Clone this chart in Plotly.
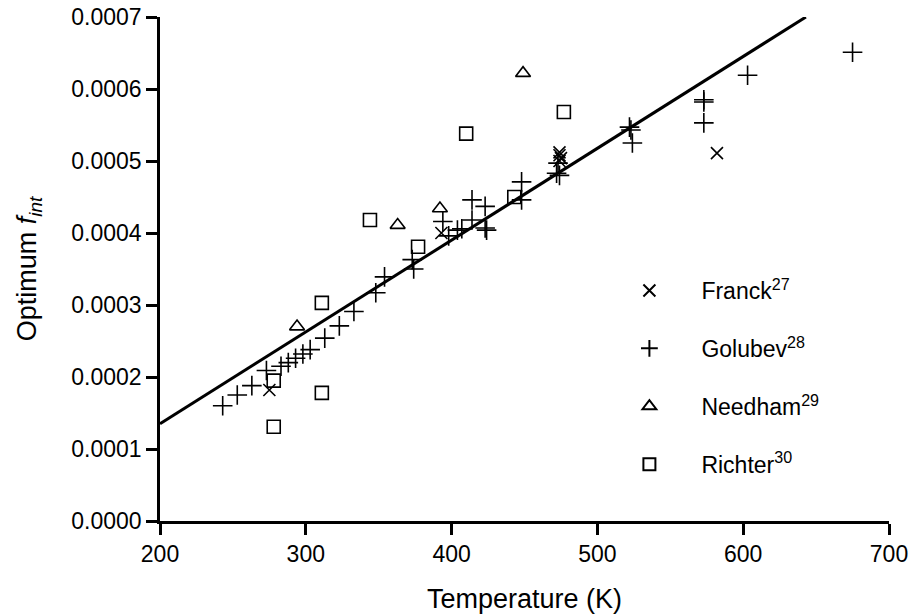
import plotly.graph_objects as go

# ---- data ----
franck_T = [275, 393, 474, 474, 475, 474, 582]
franck_f = [0.000182, 0.000400, 0.000512, 0.000508, 0.000504, 0.000500, 0.000511]

golubev_T = [243, 253, 263, 273, 283, 288, 293, 298, 303, 313, 323, 333, 348, 354,
             373, 374, 394, 398, 404, 407, 414, 414, 423, 423, 424, 448, 448,
             473, 472, 474, 522, 523, 524, 573, 573, 573, 603, 675]
golubev_f = [0.000160, 0.000175, 0.000188, 0.000209, 0.000215, 0.000220, 0.000226,
             0.000232, 0.000238, 0.000254, 0.000271, 0.000291, 0.000317, 0.000339,
             0.000363, 0.000350, 0.000416, 0.000396, 0.000404, 0.000406, 0.000446,
             0.000418, 0.000437, 0.000407, 0.000404, 0.000471, 0.000446,
             0.000497, 0.000483, 0.000480, 0.000547, 0.000543, 0.000525,
             0.000585, 0.000582, 0.000553, 0.000619, 0.000651]

needham_T = [294, 363, 392, 449]
needham_f = [0.000270, 0.000411, 0.000434, 0.000622]

richter_T = [278, 278, 311, 311, 344, 377, 410, 443, 477]
richter_f = [0.000131, 0.000195, 0.000303, 0.000178, 0.000418, 0.000381, 0.000538,
             0.000450, 0.000568]

fit_T = [200, 643]
fit_f = [0.000135, 0.000700]

series_names = ["Franck<sup>27</sup>", "Golubev<sup>28</sup>",
                "Needham<sup>29</sup>", "Richter<sup>30</sup>"]

x_ticks = [200, 300, 400, 500, 600, 700]
y_ticks = [0.0000, 0.0001, 0.0002, 0.0003, 0.0004, 0.0005, 0.0006, 0.0007]

FONT = "Liberation Sans, Arial, Helvetica, sans-serif"

fig = go.Figure()

fig.add_trace(go.Scatter(x=fit_T, y=fit_f, mode="lines",
                         line=dict(color="black", width=3),
                         showlegend=False, hoverinfo="skip"))

specs = [
    (franck_T, franck_f, "x-thin-open", 12),
    (golubev_T, golubev_f, "cross-thin-open", 14),
    (needham_T, needham_f, "triangle-up-open", 13),
    (richter_T, richter_f, "square-open", 13),
]
for i, ((xs, ys, sym, sz), name) in enumerate(zip(specs, series_names)):
    fig.add_trace(go.Scatter(
        x=xs, y=ys, mode="markers", name=name, legendgroup=f"g{i}",
        marker=dict(symbol=sym, size=sz, color="black",
                    line=dict(color="black", width=1.6)),
    ))

axis_common = dict(
    showline=True, linecolor="black", linewidth=2.5,
    ticks="outside", ticklen=11, tickwidth=2.5, tickcolor="black",
    showgrid=False, zeroline=False, mirror=False, automargin=False,
    ticklabeloverflow="allow",
    tickfont=dict(family=FONT, size=23, color="black"),
)

fig.update_layout(
    width=912, height=614,
    margin=dict(l=160, r=23, t=17, b=93),
    paper_bgcolor="white", plot_bgcolor="white",
    font=dict(family=FONT, color="black"),
    xaxis=dict(range=[200, 700], tickvals=x_ticks,
               title=dict(text="Temperature (K)", font=dict(size=27), standoff=23),
               **axis_common),
    yaxis=dict(range=[0, 0.0007], tickvals=y_ticks,
               ticktext=[f"{v:.4f}" for v in y_ticks],
               title=dict(text="Optimum <i>f</i><sub><i>int</i></sub>",
                          font=dict(size=27), standoff=27),
               **axis_common),
    legend=dict(x=0.60, y=0.5, xanchor="left", yanchor="top",
                font=dict(family=FONT, size=23, color="black"),
                bgcolor="rgba(0,0,0,0)", tracegroupgap=25,
                itemwidth=94, itemsizing="constant"),
    showlegend=True,
)

fig.write_html("out.html", config={"displayModeBar": False},
               post_script="document.body.style.margin='0';")
